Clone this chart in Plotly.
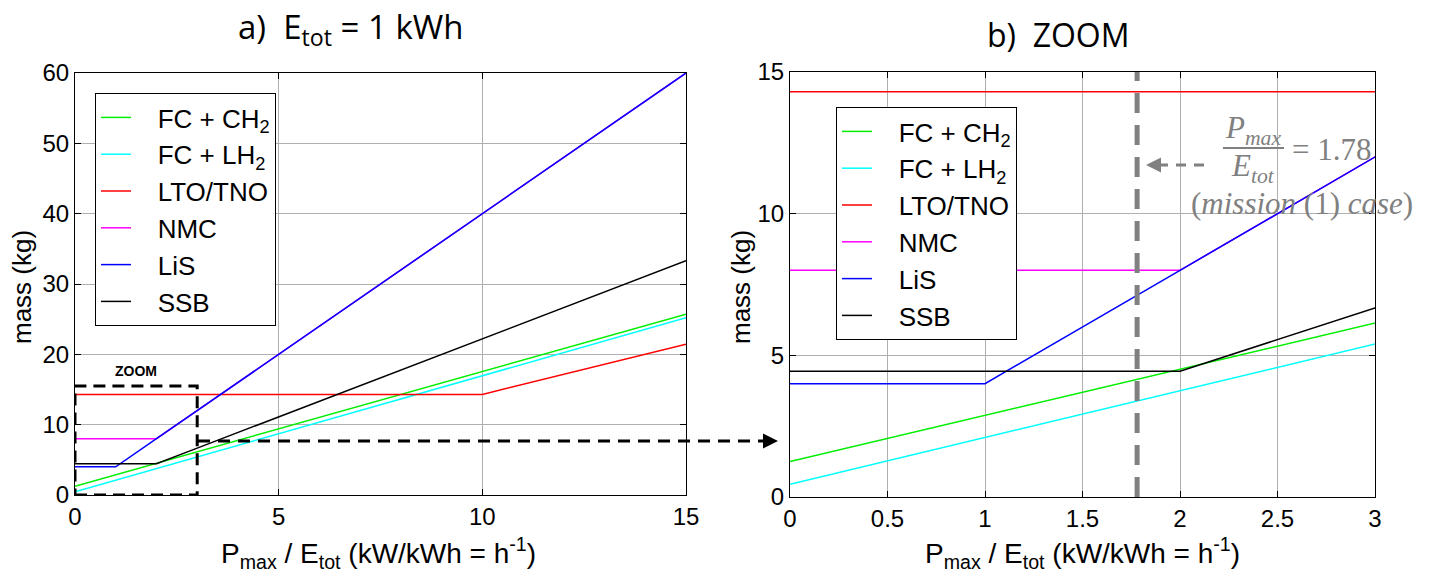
import plotly.graph_objects as go

# ---------------- data ----------------
x_ratio = [0, 1, 2, 3, 10, 15]           # Pmax/Etot (h^-1)
fc_ch2 = [1.25, 2.88, 4.51, 6.14, 17.55, 25.7]
fc_lh2 = [0.45, 2.10, 3.75, 5.40, 16.95, 25.2]
lto_tno = [14.3, 14.3, 14.3, 14.3, 14.3, 21.45]
nmc = [8, 8, 8, 12, 40, 60]
lis = [4, 4, 8, 12, 40, 60]
ssb = [4.44, 4.44, 4.44, 6.67, 22.2, 33.3]

series_names = ["FC + CH<sub>2</sub>", "FC + LH<sub>2</sub>", "LTO/TNO", "NMC", "LiS", "SSB"]
series_vals = [fc_ch2, fc_lh2, lto_tno, nmc, lis, ssb]
series_colors = ["#00ee00", "#00ffff", "#ff0000", "#ff00ff", "#0000ff", "#000000"]

mission_ratio = 1.78
left_xticks = [0, 5, 10, 15]
left_yticks = [0, 10, 20, 30, 40, 50, 60]
right_xticks = [0, 0.5, 1, 1.5, 2, 2.5, 3]
right_yticks = [0, 5, 10, 15]
zoom_box = dict(x0=0, x1=3, y0=0, y1=15.5)

W, H = 1434, 581
def px(v):
    return v / W
def py(v):
    return 1 - v / H

PAD = "&nbsp;&nbsp;&nbsp;"
fig = go.Figure()
for name, vals, col in zip(series_names, series_vals, series_colors):
    fig.add_trace(go.Scatter(x=x_ratio, y=vals, mode="lines", name=PAD + name,
                             line=dict(color=col, width=1.5),
                             xaxis="x", yaxis="y", legend="legend"))
for name, vals, col in zip(series_names, series_vals, series_colors):
    fig.add_trace(go.Scatter(x=x_ratio, y=vals, mode="lines", name=PAD + name,
                             line=dict(color=col, width=1.5),
                             xaxis="x2", yaxis="y2", legend="legend2"))

FONT = "Liberation Sans, Arial, sans-serif"
axis_common = dict(showline=True, linecolor="black", linewidth=1, mirror="ticks",
                   ticks="inside", ticklen=6, tickcolor="black",
                   showgrid=True, gridcolor="#b0b0b0", gridwidth=1, zeroline=False,
                   tickfont=dict(family=FONT, size=24, color="black"))

fig.update_layout(
    width=W, height=H,
    margin=dict(l=0, r=0, t=0, b=0, autoexpand=False),
    paper_bgcolor="white", plot_bgcolor="white",
    showlegend=True,
    xaxis=dict(domain=[px(75), px(686)], range=[0, 15], tickvals=left_xticks, anchor="y", **axis_common),
    yaxis=dict(domain=[py(495), py(73)], range=[0, 60], tickvals=left_yticks, anchor="x", **axis_common),
    xaxis2=dict(domain=[px(790), px(1375)], range=[0, 3], tickvals=right_xticks, anchor="y2", **axis_common),
    yaxis2=dict(domain=[py(497), py(72)], range=[0, 15], tickvals=right_yticks, anchor="x2", **axis_common),
    legend=dict(x=px(95), y=py(93), xanchor="left", yanchor="top", bgcolor="white",
                bordercolor="black", borderwidth=1, font=dict(family=FONT, size=26, color="black"),
                tracegroupgap=0),
    legend2=dict(x=px(836), y=py(107), xanchor="left", yanchor="top", bgcolor="white",
                 bordercolor="black", borderwidth=1, font=dict(family=FONT, size=26, color="black"),
                 tracegroupgap=0),
)

shapes = []
# zoom box on left plot
shapes.append(dict(type="rect", xref="x", yref="y", line=dict(color="black", width=3, dash="12px,7px"),
                   fillcolor="rgba(0,0,0,0)", layer="above", **zoom_box))
# dashed connector arrow
shapes.append(dict(type="line", xref="paper", yref="paper", x0=px(198), x1=px(764), y0=py(441), y1=py(441),
                   line=dict(color="black", width=3, dash="12px,8px")))
# mission vertical dashed line on right plot
shapes.append(dict(type="line", xref="x2", yref="y2", x0=mission_ratio, x1=mission_ratio, y0=0, y1=15,
                   line=dict(color="#808080", width=5, dash="20px,12px")))
# gray dashed pointer
shapes.append(dict(type="line", xref="paper", yref="paper", x0=px(1158), x1=px(1205), y0=py(165), y1=py(165),
                   line=dict(color="#808080", width=3, dash="10px,8px")))
# fraction bar
shapes.append(dict(type="line", xref="paper", yref="paper", x0=px(1223), x1=px(1284), y0=py(148), y1=py(148),
                   line=dict(color="#808080", width=2)))
fig.update_layout(shapes=shapes)

ann = []
def text(x, y, t, size, family=FONT, color="black", angle=0, xanchor="center", yanchor="middle", bold=False):
    ann.append(dict(x=px(x), y=py(y), xref="paper", yref="paper", text=("<b>%s</b>" % t) if bold else t,
                    showarrow=False, textangle=angle, xanchor=xanchor, yanchor=yanchor,
                    font=dict(family=family, size=size, color=color)))

TITLE_FONT = "Open Sans, Noto Sans, sans-serif"
text(350, 28, "a)  E<sub>tot</sub> = 1 kWh", 33, family=TITLE_FONT)
text(1058, 34, "b)  ZOOM", 32, family=TITLE_FONT)
text(22, 287, "mass (kg)", 26, angle=-90)
text(741, 287, "mass (kg)", 26, angle=-90)
xtitle = "P<sub>max</sub> / E<sub>tot</sub> (kW/kWh = h<sup>-1</sup>)"
text(378, 553, xtitle, 28)
text(1082, 553, xtitle, 28)
text(136, 371, "ZOOM", 14, bold=True)

SERIF = "Liberation Serif, DejaVu Serif, serif"
GRAY = "#808080"
text(1253, 130, "<i>P<sub>max</sub></i>", 31, family=SERIF, color=GRAY)
text(1253, 168, "<i>E<sub>tot</sub></i>", 31, family=SERIF, color=GRAY)
text(1290, 149, "= 1.78", 31, family=SERIF, color=GRAY, xanchor="left")
text(1302, 203, "(<i>mission</i> (1) <i>case</i>)", 31, family=SERIF, color=GRAY)

# arrowheads
ann.append(dict(x=px(778), y=py(441), xref="paper", yref="paper", ax=-14, ay=0, text="",
                showarrow=True, arrowhead=2, arrowsize=1, arrowwidth=3, arrowcolor="black", standoff=0))
ann.append(dict(x=px(1146), y=py(165), xref="paper", yref="paper", ax=14, ay=0, text="",
                showarrow=True, arrowhead=2, arrowsize=1, arrowwidth=3, arrowcolor=GRAY, standoff=0))
fig.update_layout(annotations=ann)

fig.write_html("out.html")
